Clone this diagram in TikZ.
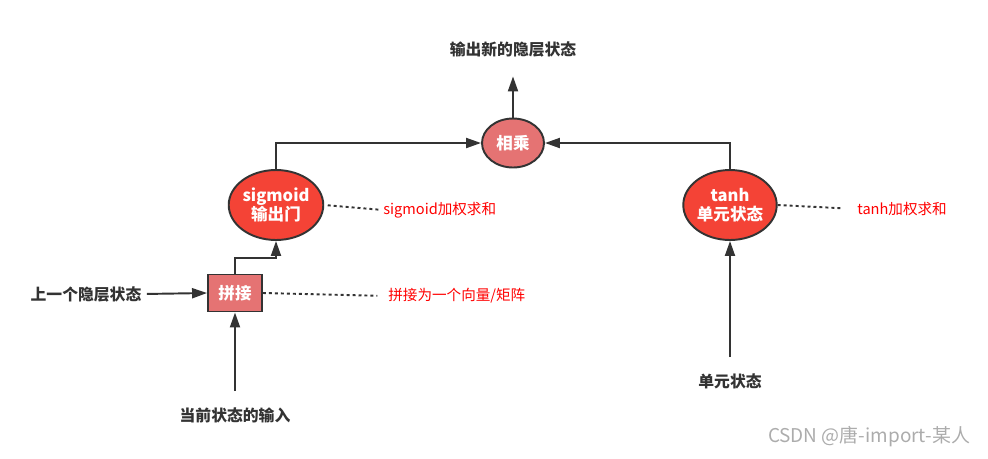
\documentclass[tikz,border=0pt]{standalone}
\usepackage{fontspec}
\setmainfont{Noto Sans CJK SC}
\usetikzlibrary{arrows.meta,shapes.geometric}
\definecolor{gatered}{HTML}{F44336}
\definecolor{softred}{HTML}{E57373}
\definecolor{linegray}{HTML}{333333}
\begin{document}
\begin{tikzpicture}[x=0.02cm,y=-0.02cm,
	line/.style={draw=linegray,line width=1.1pt,-{Triangle[length=0.3cm,width=0.2cm]}},
	dotline/.style={draw=linegray,line width=1.1pt,dash pattern=on 1.7pt off 1.7pt},
	txt/.style={font=\fontsize{9}{10}\selectfont\bfseries,text=linegray,inner sep=1pt},
	note/.style={font=\fontsize{8.3}{9}\selectfont,text=red,inner sep=0pt,anchor=west},
	gate/.style={ellipse,draw=linegray,line width=1.1pt,fill=gatered,text=white,
		font=\fontsize{9.4}{11}\selectfont\bfseries,align=center,inner sep=0pt,
		minimum width=1.72cm,minimum height=1.4cm},
	mulnode/.style={ellipse,draw=linegray,line width=1.1pt,fill=softred,text=white,
		font=\fontsize{9.4}{11}\selectfont\bfseries,inner sep=0pt,
		minimum width=1.24cm,minimum height=0.98cm},
	boxnode/.style={rectangle,draw=linegray,line width=1.1pt,fill=softred,text=white,
		font=\fontsize{9.4}{11}\selectfont\bfseries,inner sep=0pt,
		minimum width=1.08cm,minimum height=0.74cm},
	wmark/.style={font=\fontsize{10.8}{12}\selectfont,text=gray!65,inner sep=0pt}]
	\useasboundingbox (0,0) rectangle (988,458);
	% nodes
	\node[txt] (out) at (513,49) {输出新的隐层状态};
	\node[mulnode] (mul) at (513,143) {相乘};
	\node[gate] (sig) at (276,205) {sigmoid\\输出门};
	\node[gate] (tanh) at (730,205) {tanh\\单元状态};
	\node[boxnode] (cat) at (235,293) {拼接};
	\node[txt] (prev) at (86,294) {上一个隐层状态};
	\node[txt] (xin) at (235,415) {当前状态的输入};
	\node[txt] (cell) at (730,381) {单元状态};
	\node[note] (sign) at (383,210) {sigmoid加权求和};
	\node[note] (catn) at (388,296) {拼接为一个向量/矩阵};
	\node[note] (tanhn) at (857,209) {tanh加权求和};
	\node[wmark] (wm) at (869,437) {CSDN @唐-import-某人};
	% connectors
	\draw[line,shorten >=10pt] (mul.north) -- (out.south);
	\draw[line] (sig.north) |- (mul.west);
	\draw[line] (tanh.north) |- (mul.east);
	\draw[line] (cat.north) -- ++(0,-16) -| (sig.south);
	\draw[line,shorten <=2pt] (prev.east) -- (cat.west);
	\draw[line,shorten <=8pt] (xin.north) -- (cat.south);
	\draw[line,shorten <=8pt] (cell.north) -- (tanh.south);
	% dotted notes
	\draw[dotline,shorten <=2pt,shorten >=2pt] (sig.east) -- (sign.west);
	\draw[dotline,shorten >=6pt] (cat.east) -- (catn.west);
	\draw[dotline,shorten >=8pt] (tanh.east) -- (tanhn.west);
\end{tikzpicture}
\end{document}
